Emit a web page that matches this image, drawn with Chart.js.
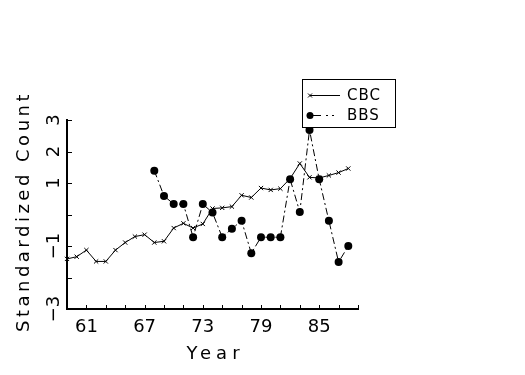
<!DOCTYPE html>
<html>
<head>
<meta charset="utf-8">
<script src="https://cdn.jsdelivr.net/npm/chart.js@4/dist/chart.umd.min.js"></script>
<style>
  html, body { margin: 0; padding: 0; background: #fff; }
  #wrap { width: 525px; height: 375px; }
</style>
</head>
<body>
<div id="wrap"><canvas id="score-chart" width="525" height="375"></canvas></div>
<script>
// data
var cbcYears = [59, 60, 61, 62, 63, 64, 65, 66, 67, 68, 69, 70, 71, 72, 73, 74, 75, 76, 77, 78, 79, 80, 81, 82, 83, 84, 85, 86, 87, 88];
var cbcValues = [-1.41, -1.34, -1.13, -1.49, -1.49, -1.13, -0.89, -0.70, -0.64, -0.89, -0.85, -0.43, -0.28, -0.43, -0.30, 0.19, 0.21, 0.25, 0.61, 0.54, 0.84, 0.78, 0.82, 1.14, 1.62, 1.18, 1.16, 1.24, 1.33, 1.46];

var bbsYears = [68, 69, 70, 71, 72, 73, 74, 75, 76, 77, 78, 79, 80, 81, 82, 83, 84, 85, 86, 87, 88];
var bbsValues = [1.39, 0.59, 0.33, 0.33, -0.72, 0.33, 0.06, -0.72, -0.45, -0.20, -1.23, -0.72, -0.72, -0.72, 1.12, 0.08, 2.68, 1.12, -0.20, -1.51, -1.00];

var xTickLabels = [61, 67, 73, 79, 85];
var yTickLabels = [3, 2, 1, -1, -3];
var seriesNames = ["CBC", "BBS"];

var xTitle = "Year";
var yTitle = "Standardized Count";

function toPoints(xs, ys) {
	var pts = [];
	for (var i = 0; i < xs.length; i++) {
		pts.push({x: xs[i], y: ys[i]});
	}
	return pts;
}

var bbsDash = [7, 3, 2, 3];

// draws axis ticks (inward), labels, titles and the boxed legend
var decorations = {
	id: "decorations",
	beforeDraw: function(chart) {
		var c = chart.ctx;
		c.save();
		c.fillStyle = "#fff";
		c.fillRect(0, 0, chart.width, chart.height);
		c.restore();
	},
	afterDraw: function(chart) {
		var c = chart.ctx;
		var xs = chart.scales.x, ys = chart.scales.y;
		var area = chart.chartArea;
		c.save();
		c.strokeStyle = "#000";
		c.fillStyle = "#000";
		c.lineWidth = 1;

		// tick marks pointing into the plot
		xs.ticks.forEach(function(t) {
			var px = Math.round(xs.getPixelForValue(t.value)) + 0.5;
			c.beginPath();
			c.moveTo(px, area.bottom);
			c.lineTo(px, area.bottom - 4);
			c.stroke();
		});
		ys.ticks.forEach(function(t) {
			var py = Math.round(ys.getPixelForValue(t.value)) + 0.5;
			c.beginPath();
			c.moveTo(area.left, py);
			c.lineTo(area.left + 5, py);
			c.stroke();
		});

		// x tick labels
		c.font = "18px 'DejaVu Sans'";
		c.textAlign = "center";
		c.textBaseline = "middle";
		xTickLabels.forEach(function(v) {
			c.fillText(String(v), xs.getPixelForValue(v), 327);
		});

		// y tick labels, rotated
		yTickLabels.forEach(function(v) {
			c.save();
			c.translate(54, ys.getPixelForValue(v));
			c.rotate(-Math.PI / 2);
			c.fillText(v < 0 ? "\u2212" + Math.abs(v) : String(v), 0, 0);
			c.restore();
		});

		// axis titles
		c.letterSpacing = "5px";
		c.fillText(xTitle, (area.left + area.right) / 2 + 3, 354);
		c.save();
		c.letterSpacing = "3.5px";
		c.translate(24, (area.top + area.bottom) / 2 - 3);
		c.rotate(-Math.PI / 2);
		c.fillText(yTitle, 0, 0);
		c.restore();

		// legend box
		var bx = 302, by = 79, bw = 93, bh = 48;
		c.fillStyle = "#fff";
		c.fillRect(bx, by, bw, bh);
		c.lineWidth = 1;
		c.strokeRect(bx + 0.5, by + 0.5, bw, bh);
		c.fillStyle = "#000";
		c.font = "15px 'DejaVu Sans'";
		c.letterSpacing = "1px";
		c.textAlign = "left";
		var rows = [95, 115];
		chart.data.datasets.forEach(function(ds, i) {
			var ry = rows[i] + 0.5;
			c.beginPath();
			c.setLineDash(i === 0 ? [] : [11, 5, 2, 4, 2, 20]);
			c.moveTo(310, ry);
			c.lineTo(340, ry);
			c.stroke();
			c.setLineDash([]);
			if (i === 0) {
				c.beginPath();
				c.moveTo(308, ry - 2); c.lineTo(312, ry + 2);
				c.moveTo(308, ry + 2); c.lineTo(312, ry - 2);
				c.stroke();
			} else {
				c.beginPath();
				c.arc(310, ry, 3.5, 0, Math.PI * 2);
				c.fill();
			}
			c.fillText(ds.label, 347, rows[i] + 1);
		});
		c.restore();
	}
};

var ctx = document.getElementById("score-chart").getContext("2d");

var scoreChart = new Chart(ctx, {
	type: "line",
	data: {
		datasets: [
			{
				label: seriesNames[0],
				data: toPoints(cbcYears, cbcValues),
				borderColor: "#000",
				borderWidth: 1,
				pointStyle: "crossRot",
				pointRadius: 3,
				pointBorderWidth: 1,
				pointBorderColor: "#000",
				fill: false,
				tension: 0
			},
			{
				label: seriesNames[1],
				data: toPoints(bbsYears, bbsValues),
				borderColor: "#000",
				borderWidth: 1,
				borderDash: bbsDash,
				pointStyle: "circle",
				pointRadius: 4,
				pointBackgroundColor: "#000",
				pointBorderColor: "#000",
				pointBorderWidth: 0,
				fill: false,
				tension: 0
			}
		]
	},
	options: {
		responsive: false,
		animation: false,
		clip: false,
		layout: {padding: {top: 120, right: 167, left: 0, bottom: 0}},
		plugins: {
			legend: {display: false},
			tooltip: {enabled: false}
		},
		scales: {
			x: {
				type: "linear",
				min: 59,
				max: 89,
				ticks: {display: false, stepSize: 2},
				grid: {display: false},
				border: {display: true, color: "#000", width: 2},
				afterFit: function(scale) { scale.height = 66; }
			},
			y: {
				type: "linear",
				min: -3,
				max: 3,
				ticks: {display: false, stepSize: 1},
				grid: {display: false},
				border: {display: true, color: "#000", width: 2},
				afterFit: function(scale) { scale.width = 67; }
			}
		}
	},
	plugins: [decorations]
});
</script>
</body>
</html>
